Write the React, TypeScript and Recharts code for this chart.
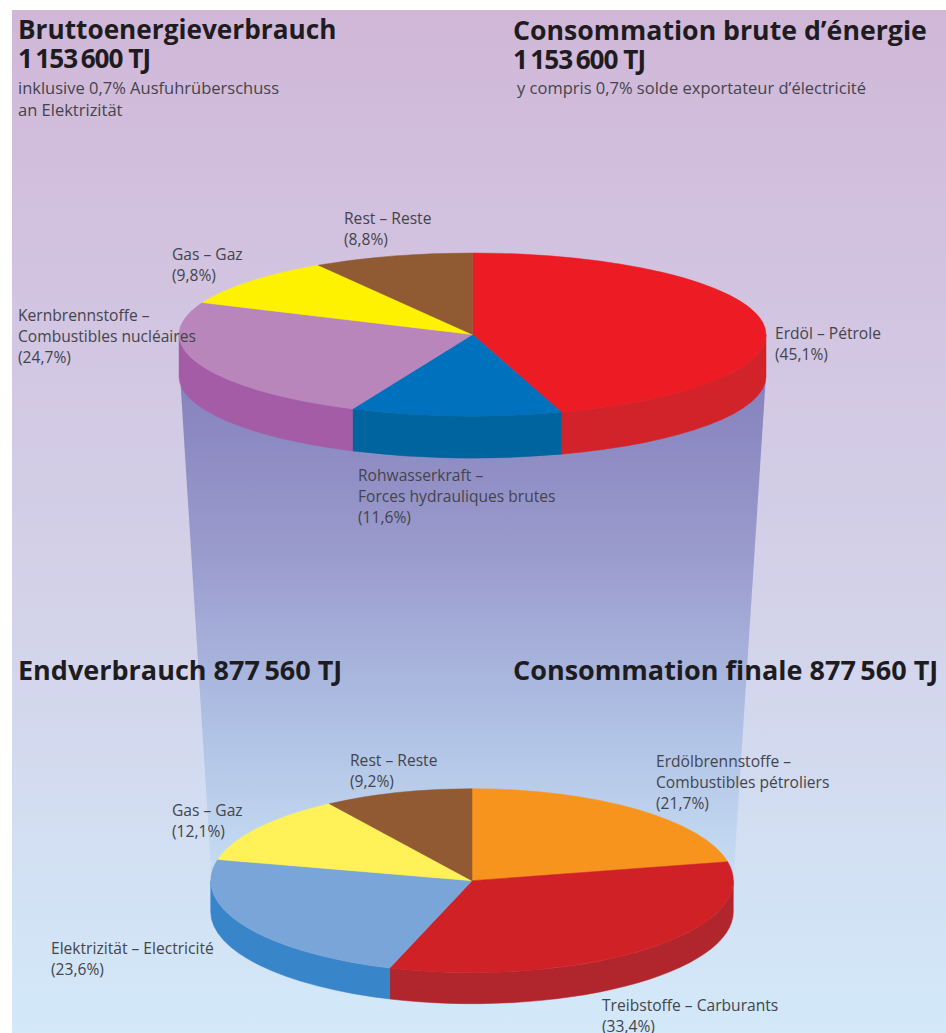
import { Pie, PieChart } from 'recharts';

const primaryLabels = [
  ['Erdöl – Pétrole'],
  ['Rohwasserkraft –', 'Forces hydrauliques brutes'],
  ['Kernbrennstoffe –', 'Combustibles nucléaires'],
  ['Gas – Gaz'],
  ['Rest – Reste'],
];
const primaryShares = [45.1, 11.6, 24.7, 9.8, 8.8];
const primaryColors = ['#ed1c24', '#0071bc', '#b986bc', '#fff200', '#905a33'];
const primaryWalls = ['#d2232a', '#00659f', '#a55ca6', '#fff200', '#905a33'];
const primaryLabelPos = [
  [775, 339],
  [358, 481],
  [18, 321],
  [172, 260],
  [344, 224],
];

const finalLabels = [
  ['Erdölbrennstoffe –', 'Combustibles pétroliers'],
  ['Treibstoffe – Carburants'],
  ['Elektrizität – Electricité'],
  ['Gas – Gaz'],
  ['Rest – Reste'],
];
const finalShares = [21.7, 33.4, 23.6, 12.1, 9.2];
const finalColors = ['#f7941e', '#d02127', '#7aa5d9', '#fff157', '#915a33'];
const finalWalls = ['#f7941e', '#b1252c', '#3985c9', '#fff157', '#915a33'];
const finalLabelPos = [
  [656, 767],
  [602, 1011],
  [51, 954],
  [172, 816],
  [350, 766],
];

const TEXT_COLOR = '#44444c';
const LABEL_FONT = '"Open Sans", sans-serif';
const LABEL_SIZE = 15.6;
const LINE_GAP = 21.2;

const toRows = (labels: string[][], shares: number[], colors: string[]) =>
  labels.map((lines, i) => ({ name: lines.join(' '), value: shares[i], fill: colors[i] }));

const pct = (v: number) => `(${v.toFixed(1).replace('.', ',')}%)`;

const RAD = Math.PI / 180;

// top face of the disc: a circle sector squeezed vertically
const flatSector = (squash: number) => (p: any) => {
  const rx = p.outerRadius;
  const ry = rx * squash;
  const x0 = p.cx + rx * Math.cos(p.startAngle * RAD);
  const y0 = p.cy - ry * Math.sin(p.startAngle * RAD);
  const x1 = p.cx + rx * Math.cos(p.endAngle * RAD);
  const y1 = p.cy - ry * Math.sin(p.endAngle * RAD);
  const large = Math.abs(p.startAngle - p.endAngle) > 180 ? 1 : 0;
  return (
    <path
      d={`M${p.cx},${p.cy}L${x0},${y0}A${rx},${ry} 0 ${large} 1 ${x1},${y1}Z`}
      fill={p.fill}
      stroke={p.fill}
      strokeWidth={0.5}
    />
  );
};

// side wall: only the part of the sector that faces the viewer (angles 0 to -180)
const wallSector = (squash: number, depth: number) => (p: any) => {
  const rx = p.outerRadius;
  const ry = rx * squash;
  const hi = Math.min(p.startAngle, 0);
  const lo = Math.max(p.endAngle, -180);
  if (hi <= lo) return <g />;
  const x0 = p.cx + rx * Math.cos(hi * RAD);
  const y0 = p.cy - ry * Math.sin(hi * RAD);
  const x1 = p.cx + rx * Math.cos(lo * RAD);
  const y1 = p.cy - ry * Math.sin(lo * RAD);
  return (
    <path
      d={`M${x0},${y0}A${rx},${ry} 0 0 1 ${x1},${y1}L${x1},${y1 + depth}A${rx},${ry} 0 0 0 ${x0},${y0 + depth}Z`}
      fill={p.fill}
      stroke={p.fill}
      strokeWidth={0.5}
    />
  );
};

const sliceLabel = (labels: string[][], shares: number[], pos: number[][]) => (p: any) => {
  const i = p.index;
  const rows = [...labels[i], pct(shares[i])];
  return (
    <text key={i} x={pos[i][0]} y={pos[i][1]} fill={TEXT_COLOR} fontFamily={LABEL_FONT} fontSize={LABEL_SIZE}>
      {rows.map((r, k) => (
        <tspan key={k} x={pos[i][0]} dy={k === 0 ? 0 : LINE_GAP}>
          {r}
        </tspan>
      ))}
    </text>
  );
};

const titleStyle = {
  position: 'absolute' as const,
  fontFamily: '"Open Sans", sans-serif',
  fontWeight: 700,
  fontSize: 26.2,
  lineHeight: '29px',
  color: '#1f1c1f',
  whiteSpace: 'nowrap' as const,
};

const noteStyle = {
  position: 'absolute' as const,
  fontFamily: LABEL_FONT,
  fontSize: 16.5,
  lineHeight: '22px',
  color: TEXT_COLOR,
  whiteSpace: 'nowrap' as const,
};

const bigNumber = <span style={{ letterSpacing: '-1px', fontSize: 26.2 }}>1{'\u2009'}153{'\u2009'}600 TJ</span>;

export default function App() {
  return (
    <div style={{ position: 'absolute', left: 0, top: 0, width: 946, height: 1033, overflow: 'hidden', background: '#fff' }}>
      <div
        style={{
          position: 'absolute',
          left: 12,
          top: 10,
          width: 934,
          height: 1023,
          background: 'linear-gradient(180deg, #d0b7d8 0%, #d2c3e0 25%, #d3d3ea 60%, #d2e9f9 100%)',
        }}
      />
      <svg width={946} height={1033} style={{ position: 'absolute', left: 0, top: 0 }}>
        <defs>
          <linearGradient id="funnel" x1="0" y1="0" x2="0" y2="1">
            <stop offset="0%" stopColor="#8581bd" />
            <stop offset="35%" stopColor="#9a9bcd" />
            <stop offset="70%" stopColor="#b0c2e5" />
            <stop offset="100%" stopColor="#c8dff4" />
          </linearGradient>
        </defs>
        <polygon points="180,375 766,375 733,885 212,885" fill="url(#funnel)" />
      </svg>

      <div style={{ ...titleStyle, left: 18, top: 15 }}>
        Bruttoenergieverbrauch
        <br />
        {bigNumber}
      </div>
      <div style={{ ...titleStyle, left: 513, top: 15, fontSize: 26.7 }}>
        Consommation brute d’énergie
        <br />
        {bigNumber}
      </div>
      <div style={{ ...noteStyle, left: 18, top: 77 }}>
        inklusive 0,7% Ausfuhrüberschuss
        <br />
        an Elektrizität
      </div>
      <div style={{ ...noteStyle, left: 517, top: 77 }}>y compris 0,7% solde exportateur d’électricité</div>
      <div style={{ ...titleStyle, left: 18, top: 655, fontSize: 27 }}>Endverbrauch 877{'\u2009'}560 TJ</div>
      <div style={{ ...titleStyle, left: 513, top: 655, fontSize: 27 }}>Consommation finale 877{'\u2009'}560 TJ</div>

      <div style={{ position: 'absolute', left: 0, top: 0 }}>
        <PieChart width={946} height={1033} margin={{ top: 0, right: 0, bottom: 0, left: 0 }}>
          <Pie
            data={toRows(primaryLabels, primaryShares, primaryWalls)}
            dataKey="value"
            cx={472.5}
            cy={334.5}
            innerRadius={0}
            outerRadius={293.5}
            startAngle={90}
            endAngle={-270}
            shape={wallSector(81.5 / 293.5, 42)}
            isAnimationActive={false}
          />
          <Pie
            data={toRows(primaryLabels, primaryShares, primaryColors)}
            dataKey="value"
            cx={472.5}
            cy={334.5}
            innerRadius={0}
            outerRadius={293.5}
            startAngle={90}
            endAngle={-270}
            shape={flatSector(81.5 / 293.5)}
            label={sliceLabel(primaryLabels, primaryShares, primaryLabelPos)}
            labelLine={false}
            isAnimationActive={false}
          />
          <Pie
            data={toRows(finalLabels, finalShares, finalWalls)}
            dataKey="value"
            cx={472}
            cy={880.7}
            innerRadius={0}
            outerRadius={261.3}
            startAngle={90}
            endAngle={-270}
            shape={wallSector(92 / 261.3, 31)}
            isAnimationActive={false}
          />
          <Pie
            data={toRows(finalLabels, finalShares, finalColors)}
            dataKey="value"
            cx={472}
            cy={880.7}
            innerRadius={0}
            outerRadius={261.3}
            startAngle={90}
            endAngle={-270}
            shape={flatSector(92 / 261.3)}
            label={sliceLabel(finalLabels, finalShares, finalLabelPos)}
            labelLine={false}
            isAnimationActive={false}
          />
        </PieChart>
      </div>
    </div>
  );
}
